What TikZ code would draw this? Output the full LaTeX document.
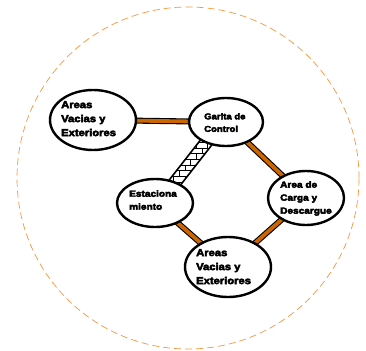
\documentclass[tikz,border=0pt]{standalone}
\usepackage{fontspec}
\setmainfont{Liberation Sans}[BoldFeatures={FakeBold=4.5,FakeStretch=1.12}]
\usetikzlibrary{patterns,backgrounds,calc,shapes.geometric}
\definecolor{linkorange}{RGB}{204,102,0}
\definecolor{dashorange}{RGB}{245,150,60}
\tikzset{
  area/.style={ellipse, draw=black, line width=2.4pt, fill=white, inner sep=0pt},
  lbl/.style={align=left, anchor=north west, inner sep=0pt},
  big/.style={font=\bfseries\fontsize{10}{14}\selectfont},
  mid/.style={font=\bfseries\fontsize{9}{13}\selectfont},
  small/.style={font=\bfseries\fontsize{8.5}{12.5}\selectfont},
  link/.style={draw=black, line width=6pt},
  linkin/.style={draw=linkorange, line width=3.8pt},
  brick/.style={draw=black, line width=1.6pt, pattern=bricks, pattern color=black, minimum width=80pt, minimum height=12pt},
}
\begin{document}
\begin{tikzpicture}[x=1pt,y=-1pt]
\useasboundingbox (0,0) rectangle (366,350);
\node[circle, draw=dashorange, line width=0.7pt, dash pattern=on 7pt off 4pt, minimum size=342pt, inner sep=0pt] (ring) at (188,178) {};
\node[area, minimum width=86pt, minimum height=60pt] (A) at (93,120) {};
\node[area, minimum width=74pt, minimum height=48pt] (B) at (226,122) {};
\node[area, minimum width=76pt, minimum height=48pt] (C) at (155,203) {};
\node[area, minimum width=76pt, minimum height=54pt] (D) at (306,198) {};
\node[area, minimum width=86pt, minimum height=60pt] (E) at (228,267) {};
\node[lbl, big] (tA) at (61,101) {Areas\\Vacias y\\Exteriores};
\node[lbl, small] (tB) at (204,113) {Garita de\\Control};
\node[lbl, mid] (tC) at (129,190) {Estaciona\\miento};
\node[lbl, mid] (tD) at (280,181) {Area de\\Carga y\\Descargue};
\node[lbl, big] (tE) at (196,249) {Areas\\Vacias y\\Exteriores};
\begin{scope}[on background layer]
  \foreach \p/\q in {A/B, B/D, D/E, C/E}{
    \draw[link] (\p.center) -- (\q.center);
    \draw[linkin] (\p.center) -- (\q.center);
  }
  \node[brick, rotate=52] (BC) at ($(B.center)!0.5!(C.center)$) {};
\end{scope}
\end{tikzpicture}
\end{document}
